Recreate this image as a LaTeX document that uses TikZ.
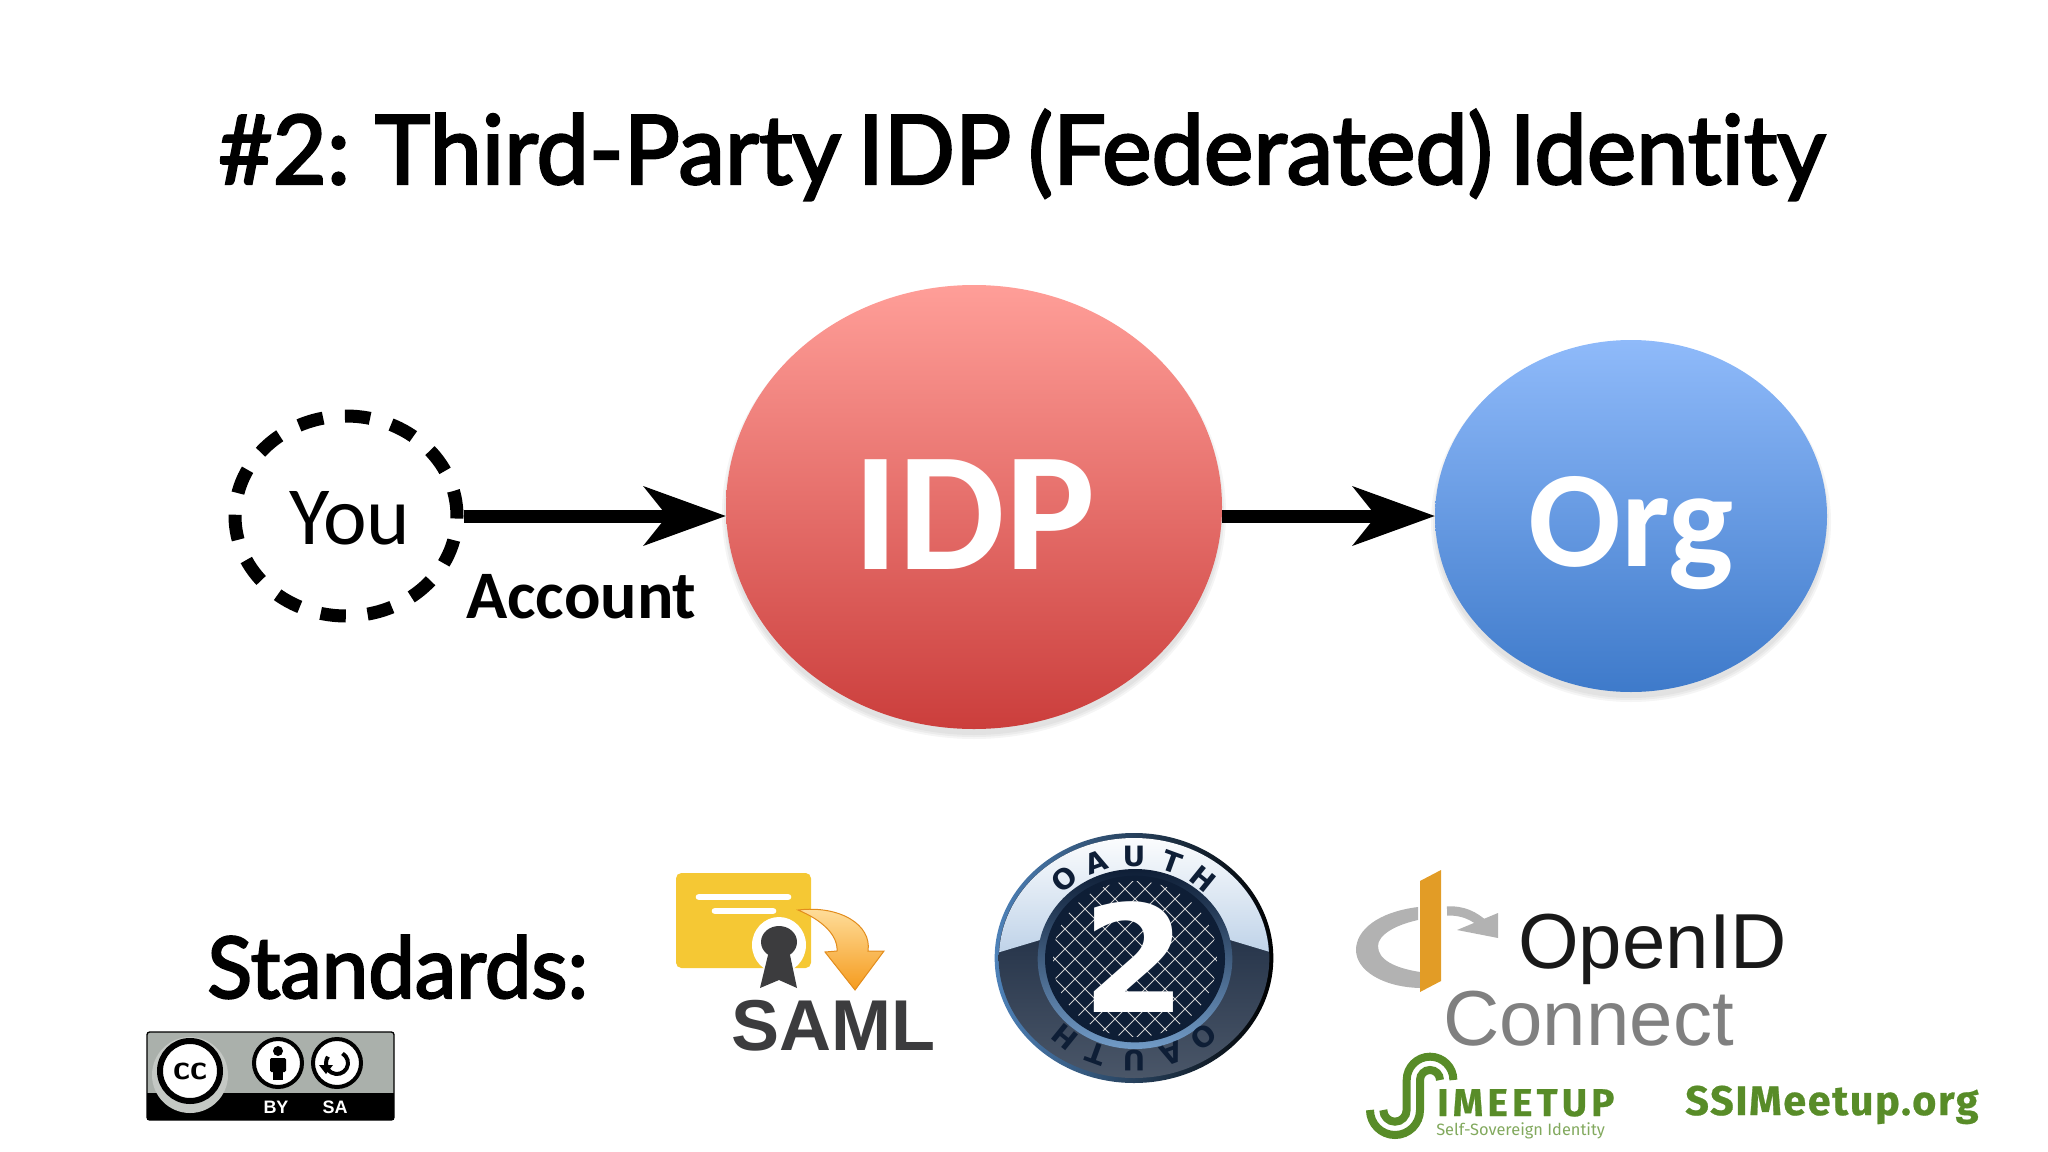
\documentclass[tikz,border=0pt]{standalone}
\usepackage{fontspec}
\setmainfont{Lato}
\newfontfamily\titlefont[FakeBold=2.5,FakeStretch=0.975,WordSpace=0.7,Ligatures=NoCommon]{Lato}
\newfontfamily\slidefont{Carlito}
\newfontfamily\logofont{Liberation Sans}
\newfontfamily\heavyfont{DejaVu Sans}
\newfontfamily\greenfont{Fira Sans}
\newfontfamily\meetupfont[LetterSpace=11,FakeBold=0.6]{Fira Sans}
\newfontfamily\urlfont[LetterSpace=4,FakeBold=0.6]{Fira Sans}
\usetikzlibrary{arrows.meta,shapes.geometric}
\newcommand{\sz}[1]{\fontsize{#1}{#1}\selectfont}
\definecolor{idptop}{RGB}{255,158,152}
\definecolor{idpbottom}{RGB}{203,62,60}
\definecolor{orgtop}{RGB}{143,186,250}
\definecolor{orgbottom}{RGB}{62,122,202}
\definecolor{samlgold}{RGB}{245,200,52}
\definecolor{samldark}{RGB}{60,60,62}
\definecolor{oauthnavy}{RGB}{14,30,54}
\definecolor{oauthblue}{RGB}{78,130,185}
\definecolor{oidgrey}{RGB}{178,178,178}
\definecolor{oidorange}{RGB}{226,156,38}
\definecolor{meetupgreen}{RGB}{88,140,40}
\definecolor{ccgrey}{RGB}{170,176,171}
\tikzset{
  ball/.style={ellipse,inner sep=0pt},
  thickarrow/.style={line width=9.75pt,-{Stealth[length=62pt,width=45pt,inset=18pt,line width=0pt]}},
  textnode/.style={inner sep=0pt,anchor=base west},
  ccdisc/.style={circle,draw=black,fill=white,line width=3pt,inner sep=0pt,minimum size=36pt},
  oauthletter/.style={inner sep=0pt,text=oauthnavy,font=\heavyfont\bfseries\sz{21}},
  sline/.style={draw=meetupgreen,line width=6pt,line cap=butt},
}
\begin{document}
\begin{tikzpicture}[x=0.75pt,y=0.75pt,yscale=-1,xscale=1]
\useasboundingbox (0,0) rectangle (2048,1152);
% Title
\node [textnode] (title) at (218,184) {\titlefont\sz{72}\#2: Third-Party IDP (Federated) Identity};

% Shadows
\foreach \d in {0,2,4}{
  \path [fill=black,opacity=0.04] (974,513) ellipse ({248+\d} and {222+\d});
  \path [fill=black,opacity=0.04] (1631,522) ellipse ({196+\d} and {176+\d});
}
%Shape: Ellipse
\node [ball,minimum width=372pt,minimum height=333pt,top color=idptop,bottom color=idpbottom] (idp) at (974,507) {};
\node [ball,minimum width=294pt,minimum height=264pt,top color=orgtop,bottom color=orgbottom] (org) at (1631,516) {};
\node [ellipse,inner sep=0pt,minimum width=166.5pt,minimum height=150pt,draw=black,line width=9.75pt,dash pattern={on 19pt off 16.4pt}] (you) at (346,516) {};

% Connectors
\draw [thickarrow] (you.east) -- (you.east -| idp.west);
\draw [thickarrow] (org.west -| idp.east) -- (org.west);

% Text Node
\node [textnode] (youlabel) at (289,544) {\slidefont\sz{62}You};
\node [textnode] (accountlabel) at (466,618) {\slidefont\bfseries\sz{51}Account};
\node [textnode,text=white] (idplabel) at (853,569) {\slidefont\bfseries\sz{127}IDP};
\node [textnode,text=white] (orglabel) at (1528,566) {\slidefont\bfseries\sz{103}Org};
\node [textnode] (standards) at (207,998) {\titlefont\sz{64}Standards:};

%CC badge
\draw [fill=ccgrey,draw=black,line width=1pt,rounded corners=2pt] (147,1032) rectangle (394,1120);
\fill [black] (147,1093) rectangle (394,1120);
\begin{scope}
\clip (147,1032) rectangle (394,1120);
\fill [ccgrey!70!white] (190,1075) circle (38);
\end{scope}
\node [circle,draw=black,fill=white,line width=4.5pt,inner sep=0pt,minimum size=45pt] (ccmark) at (190,1071) {\sffamily\bfseries\sz{26}cc};
\node [ccdisc] (bymark) at (278,1063) {};
\node [ccdisc] (samark) at (337,1063) {};
\fill [black] (278,1051) circle (5);
\fill [black,rounded corners=1pt] (270,1058) rectangle (286,1072);
\fill [black] (273,1058) rectangle (283,1080);
\draw [black,line width=3pt] (337,1063) ++(-60:11) arc (-60:215:11);
\fill [black] (319,1065) -- (333,1065) -- (326,1074) -- cycle;
\node [inner sep=0pt,text=white] (bylabel) at (276,1107) {\logofont\bfseries\sz{13.5}BY};
\node [inner sep=0pt,text=white] (salabel) at (335,1107) {\logofont\bfseries\sz{13.5}SA};

%SAML logo
\fill [samlgold,rounded corners=4pt] (676,873) rectangle (811,968);
\draw [white,line width=5pt,line cap=round] (699,897) -- (788,897);
\draw [white,line width=5pt,line cap=round] (715,911) -- (773,911);
\fill [white] (779,945) ellipse (27 and 28);
\fill [samldark] (779,942) ellipse (18 and 16);
\fill [samldark] (768,955) -- (790,955) -- (797,988) -- (779,980) -- (760,988) -- cycle;
\draw [top color={rgb,255:red,255;green,224;blue,160},bottom color={rgb,255:red,245;green,155;blue,30},draw={rgb,255:red,226;green,140;blue,28},line width=0.75pt]
  (798,910) .. controls (840,905) and (872,925) .. (868,951) -- (884,951) -- (855,990) -- (825,952) -- (837,951) .. controls (838,935) and (822,920) .. (798,910) -- cycle;
\node [textnode,text=samldark] (samllabel) at (731,1050) {\logofont\bfseries\sz{54}SAML};

%OAuth logo
\node [ball,minimum width=209pt,minimum height=187.5pt,left color=oauthblue,right color=black] (oauth) at (1134,958) {};
\node [ball,minimum width=203pt,minimum height=180pt,top color=oauthnavy,bottom color=oauthnavy!75!white] (oauthinner) at (1134,958) {};
\begin{scope}
\clip (1134,958) ellipse (135 and 120);
\shade [top color=white,bottom color={rgb,255:red,190;green,210;blue,232}] (990,830) -- (1280,830) -- (1280,955) -- (1230,940) -- (1040,940) -- (990,955) -- cycle;
\end{scope}
\node [ball,minimum width=146pt,minimum height=135pt,top color=oauthnavy,bottom color=oauthblue!80!white] (oauthring) at (1135,959) {};
\node [ball,minimum width=135pt,minimum height=125pt,fill=oauthnavy] (oauthcore) at (1135,959) {};
\begin{scope}
\clip (1135,959) ellipse (82 and 78);
\foreach \k in {-10,...,10}{
  \draw [white!65!gray,line width=0.6pt] (1135+\k*20-100,859) -- (1135+\k*20+100,1059);
  \draw [white!65!gray,line width=0.6pt] (1135+\k*20+100,859) -- (1135+\k*20-100,1059);
}
\end{scope}
\foreach \ch/\ang in {O/129,A/110,U/90,T/70,H/51,O/-51,A/-70,U/-90,T/-110,H/-129}{
  \node [oauthletter,rotate=\ang-90] (oauth\ch\ang) at ({1134+110*cos(\ang)},{958-102*sin(\ang)}) {\ch};
}
\node [textnode,text=white] (oauthtwo) at (1082,1012) {\heavyfont\bfseries\sz{112}2};

%OpenID logo
\fill [oidgrey] (1418,907) .. controls (1378,912) and (1356,930) .. (1356,950) .. controls (1356,970) and (1382,987) .. (1420,988) -- (1420,972) .. controls (1395,968) and (1378,960) .. (1378,946) .. controls (1378,935) and (1395,925) .. (1418,920) -- cycle;
\fill [oidorange] (1420,881) -- (1441,870) -- (1441,981) -- (1420,992) -- cycle;
\draw [oidgrey,line width=7pt] (1447,911) .. controls (1462,910) and (1475,916) .. (1484,925);
\fill [oidgrey] (1457,930) -- (1498,938) -- (1498,913) -- cycle;
\node [textnode,text=black!90] (openidlabel) at (1518,968) {\logofont\sz{58.5}OpenID};
\node [textnode,text=black!50] (connectlabel) at (1443,1045) {\logofont\sz{58.5}Connect};

%SIMeetup logo
\draw [sline] (1370,1110) arc (180:0:25) -- (1420,1080) arc (180:360:10);
\draw [sline] (1383.3,1110) arc (180:0:11.67) -- (1406.7,1080) arc (180:360:23.33);
\node [textnode,text=meetupgreen] (imeetup) at (1437,1116) {\meetupfont\bfseries\sz{29}IMEETUP};
\node [textnode,text=meetupgreen!75!white] (selfsovereign) at (1436,1135) {\greenfont\sz{12.3}Self-Sovereign Identity};
\node [textnode,text=meetupgreen] (ssiurl) at (1685,1115) {\urlfont\bfseries\sz{31}SSIMeetup.org};
\end{tikzpicture}
\end{document}
